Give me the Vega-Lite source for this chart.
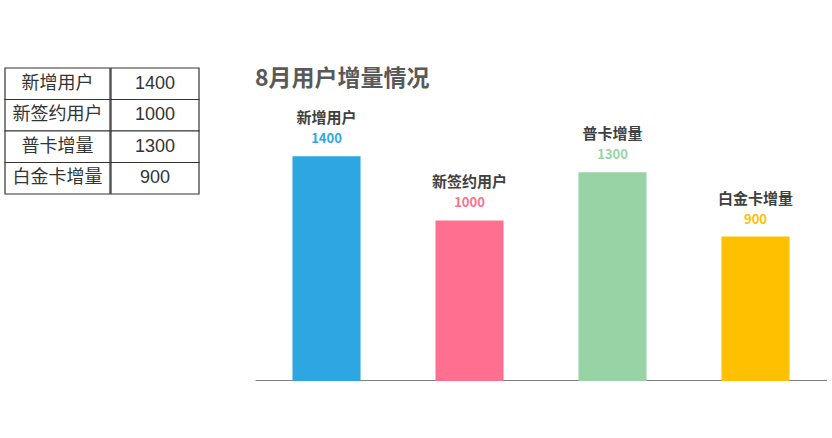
{
  "$schema": "https://vega.github.io/schema/vega-lite/v6.json",
  "padding": {"left": 4, "top": 67, "right": 0, "bottom": 0},
  "background": "white",
  "config": {
    "view": {"stroke": null},
    "font": "Noto Sans CJK SC"
  },
  "datasets": {
    "rows": [
      {"name": "新增用户", "value": 1400},
      {"name": "新签约用户", "value": 1000},
      {"name": "普卡增量", "value": 1300},
      {"name": "白金卡增量", "value": 900}
    ]
  },
  "spacing": 55,
  "hconcat": [
    {
      "spacing": -2,
      "hconcat": [
        {
          "width": 105,
          "height": 126,
          "data": {"name": "rows"},
          "encoding": {
            "y": {"field": "name", "type": "nominal", "sort": null, "axis": null,
                  "scale": {"paddingInner": 0, "paddingOuter": 0}}
          },
          "layer": [
            {"mark": {"type": "rect", "fill": "white", "stroke": "#333333", "strokeWidth": 1.2}},
            {"mark": {"type": "text", "fontSize": 18, "color": "#333333", "baseline": "middle"},
             "encoding": {"text": {"field": "name"}}}
          ]
        },
        {
          "width": 88,
          "height": 126,
          "data": {"name": "rows"},
          "encoding": {
            "y": {"field": "name", "type": "nominal", "sort": null, "axis": null,
                  "scale": {"paddingInner": 0, "paddingOuter": 0}}
          },
          "layer": [
            {"mark": {"type": "rect", "fill": "white", "stroke": "#333333", "strokeWidth": 1.2}},
            {"mark": {"type": "text", "fontSize": 18, "color": "#333333", "baseline": "middle", "font": "Liberation Sans"},
             "encoding": {"text": {"field": "value"}}}
          ]
        }
      ]
    },
    {
      "width": 572,
      "height": 313,
      "data": {"name": "rows"},
      "title": {
        "text": "8月用户增量情况",
        "anchor": "start",
        "fontSize": 23,
        "fontWeight": "bold",
        "color": "#595959",
        "offset": -23
      },
      "encoding": {
        "x": {"field": "name", "type": "nominal", "sort": null,
              "scale": {"paddingInner": 0.524, "paddingOuter": 0.262},
              "axis": {"title": null, "labels": false, "ticks": false, "domainColor": "#000000", "domainWidth": 2, "domainOpacity": 1}},
        "y": {"field": "value", "type": "quantitative", "scale": {"domain": [0, 1950]}, "axis": null},
        "color": {"field": "name", "type": "nominal", "sort": null, "legend": null,
                  "scale": {"range": ["#2EA6E2", "#FF6F8F", "#98D3A5", "#FFC000"]}}
      },
      "layer": [
        {"mark": {"type": "bar"}},
        {"mark": {"type": "text", "dy": -38, "fontSize": 15, "fontWeight": "bold", "color": "#404040", "baseline": "middle"},
         "encoding": {"text": {"field": "name"}, "color": {"value": "#404040"}}},
        {"mark": {"type": "text", "dy": -17, "fontSize": 13, "fontWeight": "bold", "baseline": "middle"},
         "encoding": {"text": {"field": "value"}}}
      ]
    }
  ]
}
